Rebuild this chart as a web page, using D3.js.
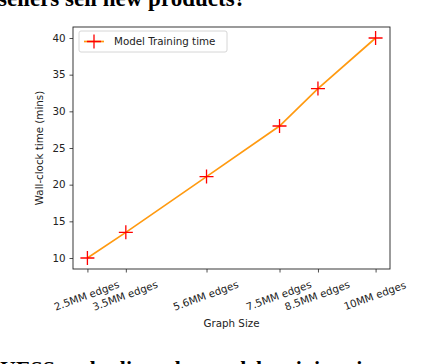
<!DOCTYPE html>
<html>
<head>
<meta charset="utf-8">
<script src="https://cdn.jsdelivr.net/npm/d3@7"></script>
<style>
  body { margin: 0; background: #fff; }
  svg { display: block; }
</style>
</head>
<body>
<svg id="chart" width="432" height="364"></svg>
<script>
// graph sizes (millions of edges) and training times
const sizes = [2.5, 3.5, 5.6, 7.5, 8.5, 10];
const sizeLabels = ["2.5MM edges", "3.5MM edges", "5.6MM edges", "7.5MM edges", "8.5MM edges", "10MM edges"];
const trainMins = [10, 13.5, 21.1, 28, 33.1, 40];
const yTicks = [10, 15, 20, 25, 30, 35, 40];

const svg = d3.select("#chart");
const margin = { top: 27, bottom: 95, left: 73, right: 42 };
const width = 432, height = 364;

// page text around the figure (cut by the crop)
svg.append("text")
    .attr("x", -2).attr("y", 6)
    .style("font-family", "Liberation Serif, serif")
    .style("font-size", "23px")
    .style("font-weight", "bold")
    .text("sellers sell new products?");
svg.append("text")
    .attr("x", 0).attr("y", 376)
    .style("font-family", "Liberation Serif, serif")
    .style("font-size", "22px")
    .style("font-weight", "bold")
    .text("UESS scales linearly: model training time va");

const x = d3.scaleLinear()
    .domain([2.125, 10.375])
    .range([margin.left, width - margin.right]);
const y = d3.scaleLinear()
    .domain([8.5, 41.5])
    .range([height - margin.bottom, margin.top]);

const font = "DejaVu Sans, sans-serif";

// axes
const xAxis = svg.append("g")
    .attr("transform", `translate(0, ${height - margin.bottom})`)
    .call(d3.axisBottom(x).tickValues(sizes).tickFormat((d, i) => sizeLabels[i]).tickSize(3.5).tickPadding(3));
xAxis.selectAll("text")
    .style("font-family", font).style("font-size", "10.3px").style("fill", "#222")
    .attr("text-anchor", "middle")
    .attr("dy", null).attr("y", null)
    .attr("transform", "translate(0, 30) rotate(-20)");

const yAxis = svg.append("g")
    .attr("transform", `translate(${margin.left}, 0)`)
    .call(d3.axisLeft(y).tickValues(yTicks).tickSize(3.5).tickPadding(4));
yAxis.selectAll("text")
    .style("font-family", font).style("font-size", "10.3px").style("fill", "#222");

svg.selectAll(".domain").remove();
svg.selectAll(".tick line").attr("stroke", "#222").attr("stroke-width", 0.8);

// frame
svg.append("rect")
    .attr("x", margin.left).attr("y", margin.top)
    .attr("width", width - margin.left - margin.right)
    .attr("height", height - margin.top - margin.bottom)
    .attr("fill", "none").attr("stroke", "#222").attr("stroke-width", 0.9);

// line
const pts = sizes.map((s, i) => [s, trainMins[i]]);
svg.append("path")
    .datum(pts)
    .attr("fill", "none")
    .attr("stroke", "#ff9a10")
    .attr("stroke-width", 1.7)
    .attr("d", d3.line().x(d => x(d[0])).y(d => y(d[1])));

// markers
svg.selectAll(".mk")
    .data(pts)
    .enter()
    .append("path")
    .attr("transform", d => `translate(${x(d[0])}, ${y(d[1])})`)
    .attr("d", "M-7,0H7M0,-7V7")
    .attr("stroke", "#ff0000")
    .attr("stroke-width", 1.3);

// axis titles
svg.append("text")
    .attr("x", (margin.left + width - margin.right) / 2).attr("y", 327)
    .attr("text-anchor", "middle")
    .style("font-family", font).style("font-size", "10.3px").style("fill", "#222")
    .text("Graph Size");
svg.append("text")
    .attr("transform", `translate(43, ${(margin.top + height - margin.bottom) / 2}) rotate(-90)`)
    .attr("text-anchor", "middle")
    .style("font-family", font).style("font-size", "10.3px").style("fill", "#222")
    .text("Wall-clock time (mins)");

// legend
const lg = svg.append("g").attr("transform", "translate(79, 31)");
lg.append("rect")
    .attr("width", 148).attr("height", 21).attr("rx", 2)
    .attr("fill", "#fff").attr("stroke", "#ccc").attr("stroke-width", 0.8);
lg.append("line")
    .attr("x1", 5).attr("x2", 25).attr("y1", 10.5).attr("y2", 10.5)
    .attr("stroke", "#ff9a10").attr("stroke-width", 1.7);
lg.append("path")
    .attr("transform", "translate(15, 10.5)")
    .attr("d", "M-7,0H7M0,-7V7")
    .attr("stroke", "#ff0000").attr("stroke-width", 1.3);
lg.append("text")
    .attr("x", 35).attr("y", 14)
    .style("font-family", font).style("font-size", "10.3px").style("fill", "#222")
    .text("Model Training time");
</script>
</body>
</html>
